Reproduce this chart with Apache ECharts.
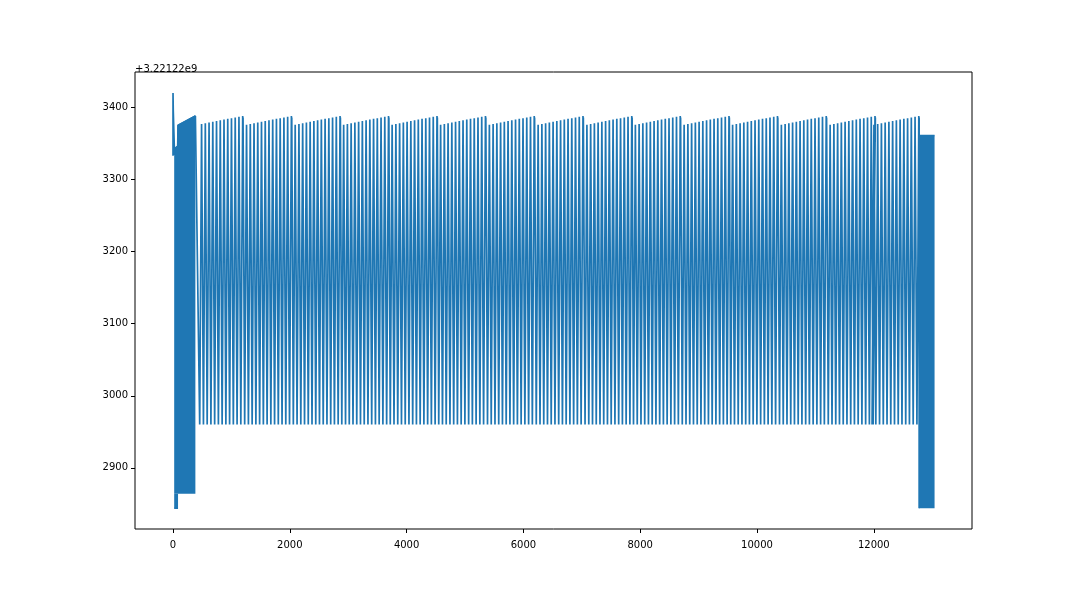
<html>
<head>
<script src="https://cdn.jsdelivr.net/npm/echarts@6/dist/echarts.min.js"></script>
<style>
  body{margin:0;background:#fff;}
  #main{width:1080px;height:595px;}
</style>
</head>
<body>
<div id="main"></div>
<script>
// offset printed above the y axis, tick labels
var yOffsetLabel = '+3.22122e9';
var xTicks = [0, 2000, 4000, 6000, 8000, 10000, 12000];
var yTicks = [2900, 3000, 3100, 3200, 3300, 3400];

// opening spike
var headX = [0, 0, 4, 22, 26];
var headY = [3333, 3420, 3396, 3396, 3334];

// dense block at the start: top edge, floor 2864 (2844 at its left end)
var startTopX = [20, 80, 86, 383];
var startTopY = [3342, 3346, 3375, 3388];
var startLowX = [20, 86];
var startLowY = [2844, 2844];
var startFloor = 2864;

// regular teeth: last peak of every run, peak heights along a run
var runEnds = [1193, 2027, 2860, 3690, 4520, 5350, 6185, 7020, 7855, 8685, 9520, 10350, 11185, 12020, 12770];
var runPeaks = [3376, 3377, 3378, 3379, 3380, 3381, 3382, 3383, 3384, 3385, 3386, 3387, 3388];
var firstRunPeaks = [3377, 3378, 3379, 3380, 3381, 3382, 3383, 3384, 3385, 3386, 3387, 3388];
var toothStep = 64;
var troughY = 2960;
var runDipY = 3352;

// dense block at the end
var endX = [12776, 13040];
var endTopY = [3361, 3361];
var endFloor = 2844;

var blue = '#1f77b4';

function pairs(xs, ys) {
  var out = [];
  for (var i = 0; i < xs.length; i++) out.push([xs[i], ys[i]]);
  return out;
}

var mainLine = pairs(headX, headY).concat(pairs(startTopX, startTopY));
runEnds.forEach(function (end, k) {
  var peaks = k === 0 ? firstRunPeaks : runPeaks;
  var n = peaks.length;
  for (var i = 0; i < n; i++) {
    var px = end - (n - 1 - i) * toothStep;
    mainLine.push([px - toothStep / 2, troughY]);
    mainLine.push([px, peaks[i]]);
    if (i === n - 1) {
      mainLine.push([px + 3, runDipY]);
      mainLine.push([px + 6, peaks[i] - 2]);
    }
  }
});
mainLine.push([endX[0], endFloor]);

var chart = echarts.init(document.getElementById('main'));
var axisFont = {color: '#000', fontSize: 10, fontFamily: 'DejaVu Sans', formatter: function (v) { return String(v); }};

chart.setOption({
  animation: false,
  grid: {left: 135, right: 108, top: 72, bottom: 66, show: true, borderColor: '#000', borderWidth: 1, backgroundColor: 'transparent'},
  graphic: [{
    type: 'text', left: 135, top: 59,
    style: {text: yOffsetLabel, fill: '#000', font: '10px "DejaVu Sans"'}
  }],
  xAxis: {
    type: 'value', min: -651, max: 13681,
    splitLine: {show: false},
    axisLine: {show: false, onZero: false},
    axisTick: {show: true, customValues: xTicks, length: 4, lineStyle: {color: '#000'}},
    axisLabel: Object.assign({customValues: xTicks, margin: 6}, axisFont)
  },
  yAxis: {
    type: 'value', min: 2815.2, max: 3449,
    splitLine: {show: false},
    axisLine: {show: false, onZero: false},
    axisTick: {show: true, customValues: yTicks, length: 4, lineStyle: {color: '#000'}},
    axisLabel: Object.assign({customValues: yTicks, margin: 7}, axisFont)
  },
  series: [
    {
      type: 'line', data: pairs(startTopX, startTopY), showSymbol: false,
      lineStyle: {color: blue, width: 1.5}, itemStyle: {color: blue},
      areaStyle: {color: blue, opacity: 1, origin: startFloor}
    },
    {
      type: 'line', data: pairs(startLowX, startLowY), showSymbol: false,
      lineStyle: {color: blue, width: 1.5}, itemStyle: {color: blue},
      areaStyle: {color: blue, opacity: 1, origin: startFloor}
    },
    {
      type: 'line', data: pairs(endX, endTopY), showSymbol: false,
      lineStyle: {color: blue, width: 1.5}, itemStyle: {color: blue},
      areaStyle: {color: blue, opacity: 1, origin: endFloor}
    },
    {
      type: 'line', data: mainLine, showSymbol: false,
      lineStyle: {color: blue, width: 1.7}, itemStyle: {color: blue}
    }
  ]
});
</script>
</body>
</html>
